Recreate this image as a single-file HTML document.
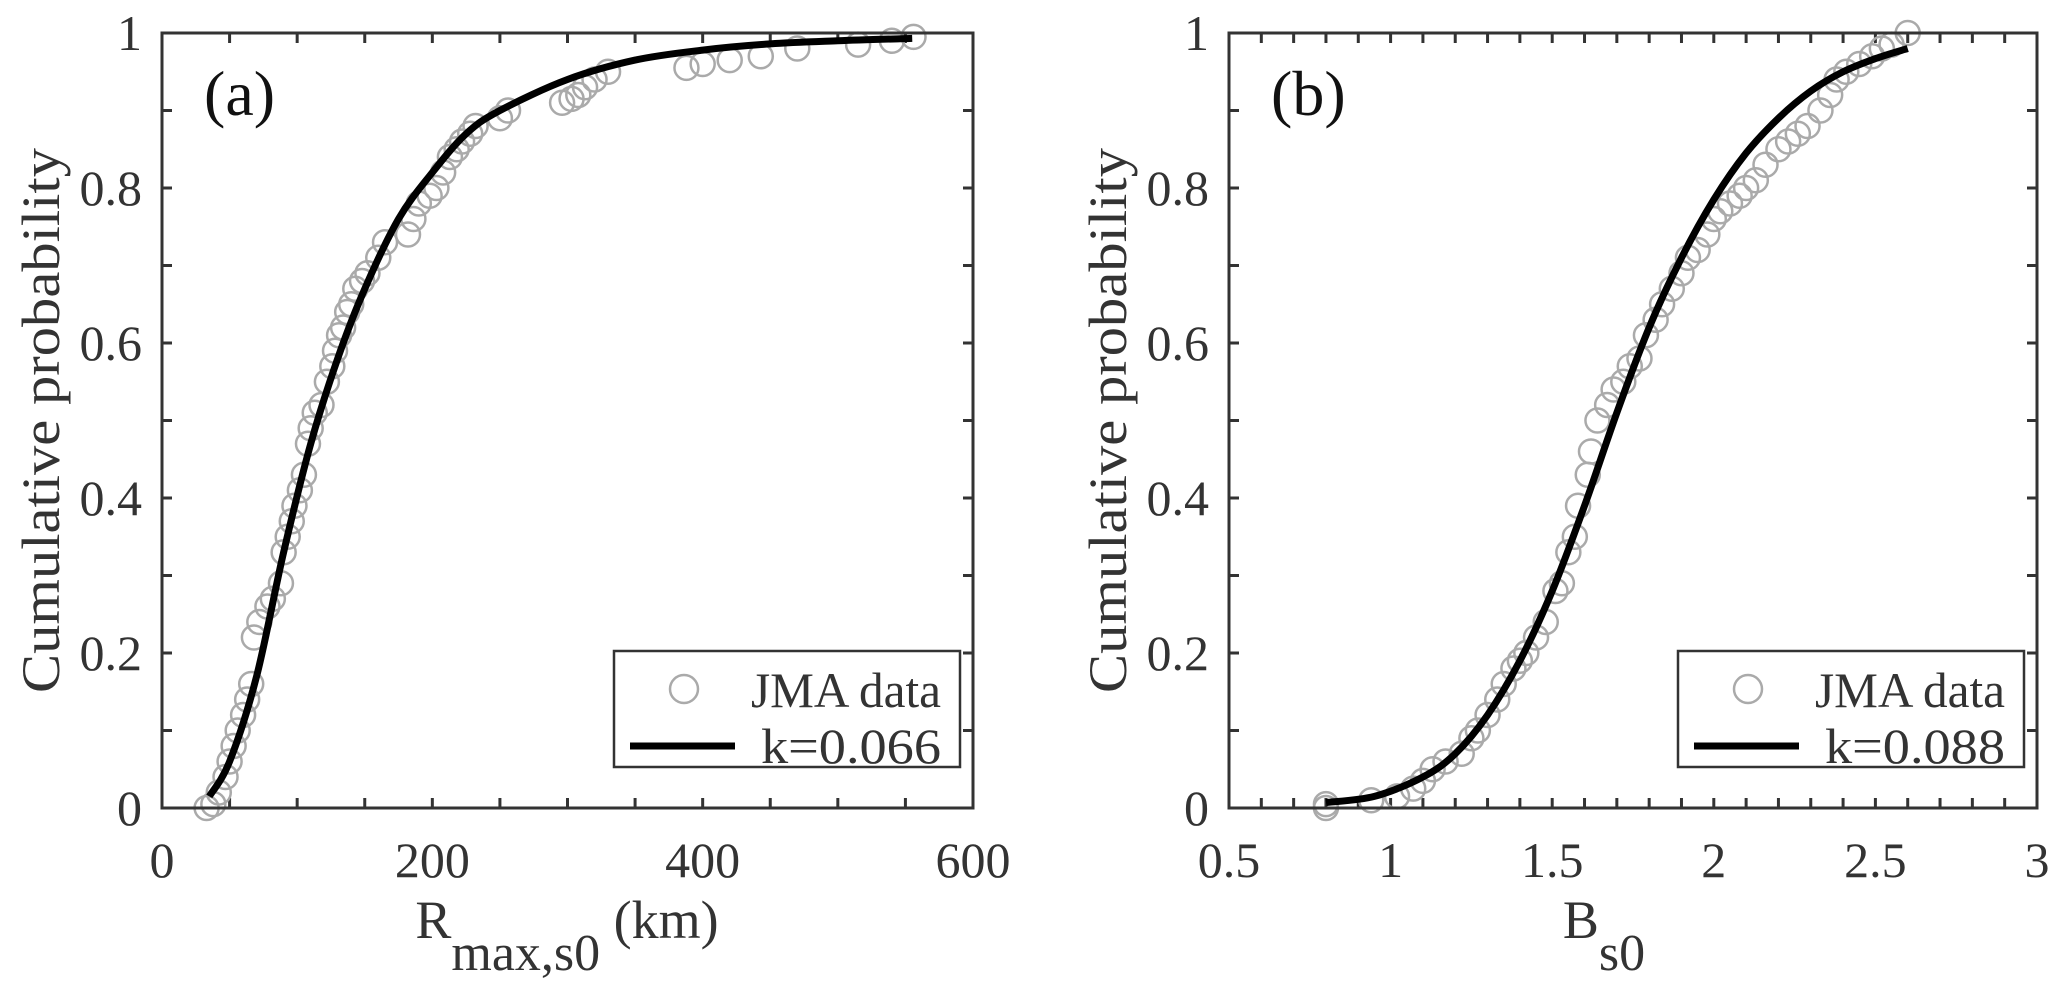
<!DOCTYPE html>
<html><head><meta charset="utf-8"><style>
html,body{margin:0;padding:0;background:#fff;}
svg text{font-family:"Liberation Serif","DejaVu Serif",serif;fill:#333;}
</style></head><body>
<svg id="chart" width="2067" height="986" viewBox="0 0 2067 986" xmlns="http://www.w3.org/2000/svg"></svg>
<script>
// Panel (a) data
const aDataX = [33,38,42,47,50,53,56,60,63,66,68,72,78,82,88,90,93,96,98,102,105,108,110,113,118,122,126,128,131,134,137,140,143,148,152,160,165,182,186,190,198,203,208,213,218,222,228,232,250,256,296,303,308,313,320,330,388,400,420,443,470,515,540,556];
const aDataY = [0.0,0.005,0.02,0.04,0.06,0.08,0.1,0.12,0.14,0.16,0.22,0.24,0.26,0.27,0.29,0.33,0.35,0.37,0.39,0.41,0.43,0.47,0.49,0.51,0.52,0.55,0.57,0.59,0.61,0.62,0.64,0.65,0.67,0.68,0.69,0.71,0.73,0.74,0.76,0.78,0.79,0.8,0.82,0.84,0.85,0.86,0.87,0.88,0.89,0.9,0.91,0.915,0.92,0.93,0.94,0.95,0.955,0.96,0.965,0.97,0.98,0.985,0.99,0.995];
const aFitX = [35,50,70,90,110,130,150,175,200,225,250,300,350,400,450,500,555];
const aFitY = [0.015,0.06,0.17,0.33,0.47,0.58,0.67,0.76,0.82,0.87,0.9,0.94,0.965,0.978,0.986,0.99,0.993];
const aXTicks = [0,200,400,600];
const aXTickLabels = ["0","200","400","600"];
// Panel (b) data
const bDataX = [0.8,0.8,0.94,1.02,1.07,1.1,1.13,1.17,1.22,1.25,1.27,1.3,1.33,1.35,1.38,1.4,1.42,1.45,1.48,1.51,1.53,1.55,1.57,1.58,1.61,1.62,1.64,1.67,1.69,1.72,1.74,1.77,1.79,1.82,1.84,1.87,1.9,1.92,1.95,1.98,2.0,2.02,2.05,2.08,2.1,2.13,2.16,2.2,2.23,2.26,2.29,2.33,2.36,2.38,2.41,2.45,2.49,2.52,2.55,2.6];
const bDataY = [0.0,0.005,0.01,0.015,0.025,0.035,0.05,0.06,0.07,0.09,0.1,0.12,0.14,0.16,0.18,0.19,0.2,0.22,0.24,0.28,0.29,0.33,0.35,0.39,0.43,0.46,0.5,0.52,0.54,0.55,0.57,0.58,0.61,0.63,0.65,0.67,0.69,0.71,0.72,0.74,0.76,0.77,0.78,0.79,0.8,0.81,0.83,0.85,0.86,0.87,0.88,0.9,0.92,0.94,0.95,0.96,0.97,0.98,0.985,1.0];
const bFitX = [0.8,0.95,1.1,1.2,1.3,1.4,1.5,1.6,1.7,1.8,1.9,2.0,2.1,2.2,2.3,2.4,2.5,2.6];
const bFitY = [0.007,0.015,0.04,0.07,0.12,0.19,0.28,0.39,0.51,0.62,0.71,0.785,0.845,0.89,0.925,0.95,0.967,0.98];
const bXTicks = [0.5,1,1.5,2,2.5,3];
const bXTickLabels = ["0.5","1","1.5","2","2.5","3"];
const yTicks = [0,0.2,0.4,0.6,0.8,1];
const yTickLabels = ["0","0.2","0.4","0.6","0.8","1"];

const NS="http://www.w3.org/2000/svg";
const svg=document.getElementById('chart');
function mk(tag,attrs,parent){const e=document.createElementNS(NS,tag);for(const k in attrs)e.setAttribute(k,attrs[k]);(parent||svg).appendChild(e);return e;}
function smoothPath(pts){
  let d='M'+pts[0][0].toFixed(1)+','+pts[0][1].toFixed(1);
  for(let i=0;i<pts.length-1;i++){
    const p0=pts[Math.max(0,i-1)],p1=pts[i],p2=pts[i+1],p3=pts[Math.min(pts.length-1,i+2)];
    const c1=[p1[0]+(p2[0]-p0[0])/6,p1[1]+(p2[1]-p0[1])/6];
    const c2=[p2[0]-(p3[0]-p1[0])/6,p2[1]-(p3[1]-p1[1])/6];
    d+=` C${c1[0].toFixed(1)},${c1[1].toFixed(1)} ${c2[0].toFixed(1)},${c2[1].toFixed(1)} ${p2[0].toFixed(1)},${p2[1].toFixed(1)}`;
  }
  return d;
}

function panel(cfg){
  const g=mk('g',{});
  
  
  const L=cfg.left,R=cfg.right,T=33,B=808;
  const sx=v=>L+(v-cfg.xmin)/(cfg.xmax-cfg.xmin)*(R-L);
  const sy=v=>B-v*(B-T);
  for(let v=cfg.xmin;v<=cfg.xmax+1e-9;v+=cfg.xstep){
    const x=sx(v);
    const t1=mk('line',{x1:x,x2:x,y1:B,y2:B-10,stroke:'#333','stroke-width':3},g);
    
    
    mk('line',{x1:x,x2:x,y1:T,y2:T+10,stroke:'#333','stroke-width':3},g);
  }
  for(let i=0;i<=10;i++){
    const y=sy(i/10);
    const t2=mk('line',{x1:L,x2:L+10,y1:y,y2:y,stroke:'#333','stroke-width':3},g);
    
    
    mk('line',{x1:R,x2:R-10,y1:y,y2:y,stroke:'#333','stroke-width':3},g);
  }
  cfg.xTicks.forEach((v,i)=>{
    const t=mk('text',{x:sx(v),y:877,'font-size':50,'text-anchor':'middle'},g);
    t.textContent=cfg.xLabels[i];
    
    
  });
  yTicks.forEach((v,i)=>{
    const t=mk('text',{x:L-20,y:sy(v)+17,'font-size':50,'text-anchor':'end'},g);
    t.textContent=yTickLabels[i];
    
    
  });
  const yt=mk('text',{x:0,y:0,'font-size':54,'text-anchor':'middle',textLength:545,lengthAdjust:'spacingAndGlyphs',transform:`translate(${L-103},${(T+B)/2}) rotate(-90)`},g);
  yt.textContent='Cumulative probability';
  
  
  const xt=mk('text',{x:cfg.xTitleX,y:938,'font-size':54,'text-anchor':'middle'},g);
  xt.innerHTML=cfg.xTitle;
  
  
  cfg.dx.forEach((v,i)=>{
    const c=mk('circle',{cx:sx(v),cy:sy(cfg.dy[i]),r:12,fill:'none',stroke:'#aaa','stroke-width':2.5},g);
    
    
  });
  const pts=cfg.fx.map((v,i)=>[sx(v),sy(cfg.fy[i])]);
  const p=mk('path',{d:smoothPath(pts),fill:'none',stroke:'#000','stroke-width':7,'stroke-linejoin':'round'},g);
  
  
  const fr=mk('rect',{x:L,y:T,width:R-L,height:B-T,fill:'none',stroke:'#333','stroke-width':3},g);
  
  
  const pl=mk('text',{x:L+42,y:115,'font-size':64},g);
  pl.textContent=cfg.tag;
  pl.style.fill='#111';
  
  
  const lg=mk('g',{},g);
  
  
  const lx=R-359,ly=651;
  mk('rect',{x:lx,y:ly,width:346,height:116,fill:'#fff',stroke:'#333','stroke-width':2.5},lg);
  const lc=mk('circle',{cx:lx+70,cy:ly+38,r:14,fill:'none',stroke:'#aaa','stroke-width':2.5},lg);
  
  
  const l1=mk('text',{x:lx+327,y:ly+56,'font-size':50,'text-anchor':'end',textLength:190,lengthAdjust:'spacingAndGlyphs'},lg);
  l1.textContent='JMA data';
  
  
  const ll=mk('line',{x1:lx+16,x2:lx+121,y1:ly+95,y2:ly+95,stroke:'#000','stroke-width':7},lg);
  
  
  const l2=mk('text',{x:lx+327,y:ly+112,'font-size':50,'text-anchor':'end',textLength:180,lengthAdjust:'spacingAndGlyphs'},lg);
  l2.textContent=cfg.k;
  
  
}
panel({name:'panel-a',left:162,right:973,xmin:0,xmax:600,xstep:50,xTicks:aXTicks,xLabels:aXTickLabels,
  dx:aDataX,dy:aDataY,fx:aFitX,fy:aFitY,tag:'(a)',k:'k=0.066',xTitleX:567,
  xTitle:'R<tspan dy="32" font-size="52">max,s0</tspan><tspan dy="-32"> (km)</tspan>'});
panel({name:'panel-b',left:1229,right:2037,xmin:0.5,xmax:3,xstep:0.1,xTicks:bXTicks,xLabels:bXTickLabels,
  dx:bDataX,dy:bDataY,fx:bFitX,fy:bFitY,tag:'(b)',k:'k=0.088',xTitleX:1604,
  xTitle:'B<tspan dy="32" font-size="52">s0</tspan>'});
</script>
</body></html>
